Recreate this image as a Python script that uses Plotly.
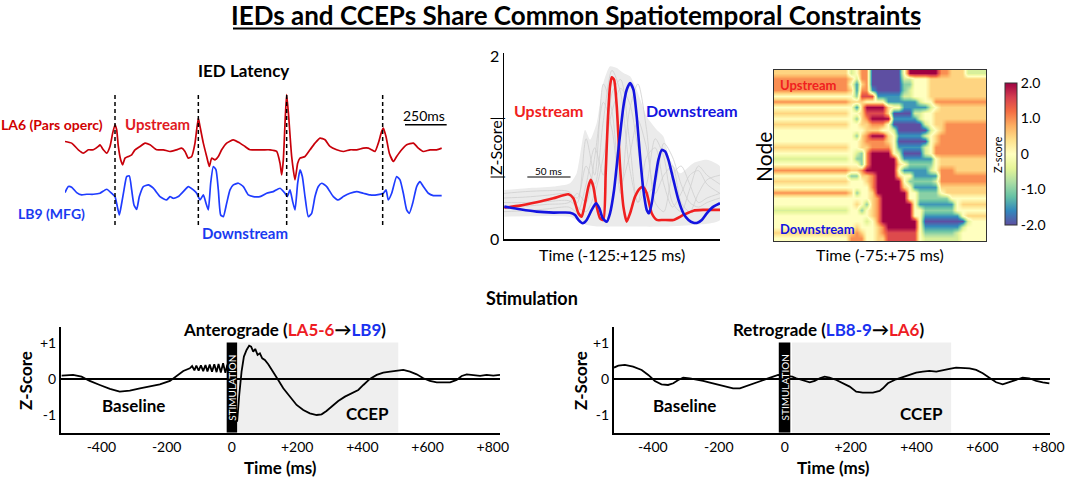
import plotly.graph_objects as go

W, H = 1065, 478
FONT = "Lato"

# ---------------- Panel A: IED latency traces (time ms, amplitude a.u.) ----------------
ied_red_t = [0, 40, 80, 110, 140, 170, 200, 210, 230, 250, 270, 286, 300, 310, 320, 334, 346, 360, 380, 400,
             420, 450, 480, 510, 550, 590, 630, 670, 700, 720, 740, 760, 780, 800, 810, 830, 850, 866, 880, 900,
             920, 940, 970, 1010, 1050, 1080, 1110, 1150, 1190, 1230, 1270, 1290, 1300, 1310, 1322, 1330, 1342,
             1360, 1380, 1396, 1410, 1440, 1470, 1500, 1530, 1560, 1590, 1630, 1670, 1710, 1750, 1790, 1820,
             1840, 1860, 1880, 1900, 1910, 1926, 1946, 1970, 1990, 2020, 2050, 2090, 2120, 2150, 2190, 2230, 2260]
ied_red = [15, 10, -10, -20, -10, -10, 0, 5, -10, -20, 0, 40, 65, 50, 0, -40, -55, -35, -30, -25,
           -10, 0, 10, 5, -10, -10, -15, -10, -5, -15, -35, -30, 10, 85, 60, 10, -30, -60, -35, -40,
           -30, -10, 10, 20, 10, 0, -10, -10, -10, -10, -15, -50, -85, -40, 90, 155, 90,
           -30, -100, -50, -35, -30, -10, 10, 25, 20, 0, -10, -15, -10, -10, -5, -5,
           -10, -15, 10, 45, 55, 30, -20, -45, -30, -10, 5, 10, -5, -15, -10, -10, -5]
ied_blue_t = [0, 20, 40, 70, 100, 130, 170, 210, 250, 280, 300, 314, 326, 340, 354, 370, 386, 400, 414, 430,
              446, 470, 500, 530, 570, 610, 630, 650, 680, 710, 740, 770, 790, 810, 830, 846, 860, 874, 890,
              906, 920, 934, 950, 970, 990, 1010, 1040, 1070, 1100, 1130, 1170, 1210, 1250, 1290, 1320, 1334,
              1350, 1366, 1380, 1396, 1410, 1424, 1440, 1460, 1480, 1500, 1520, 1540, 1570, 1610, 1640, 1670,
              1710, 1750, 1790, 1830, 1870, 1910, 1926, 1940, 1960, 1990, 2010, 2030, 2050, 2066, 2086, 2110,
              2130, 2150, 2180, 2210, 2260]
ied_blue = [2, 20, 18, 2, -5, -3, -3, 0, 12, 0, -10, -40, -65, -30, 10, 50, 52, 10, -35, -48,
            -10, 20, 25, 15, -10, -20, -10, -15, -10, 5, 20, 10, 0, -20, -5, -30, -50, 30, 80,
            70, 10, -65, -70, -30, 10, 25, 30, 20, -5, -10, -10, 0, 5, 15, 0, -10,
            10, -25, -50, 30, 70, 50, -10, -70, -60, -10, 20, 30, 20, -10, -20, -10,
            0, 5, 0, -5, -5, 0, 10, -20, 0, 50, 40, 0, -50, -60, -30, 20,
            35, 20, 0, -7, -7]
ied_onsets = [300, 800, 1330, 1906]
scale_bar_ms = [2040, 2290]

# ---------------- Panel B: averaged |Z| traces (-125..125 ms) ----------------
up_t = [-124.6, -106.5, -87.2, -67.9, -50.5, -44.7, -38.9, -35.1, -31.2, -27.3, -24.6, -21.6, -17.7, -13.8,
        -10.0, -7.3, -5.0, -2.3, -0.3, 2.4, 5.5, 9.3, 13.2, 17.0, 20.9, 26.7, 32.5, 36.3, 40.2, 46.0, 51.8,
        59.5, 71.1, 82.7, 94.2, 105.8, 117.4, 125]
up_z = [0.344, 0.366, 0.403, 0.447, 0.491, 0.447, 0.282, 0.245, 0.392, 0.575, 0.648, 0.575, 0.355, 0.227,
        0.209, 0.722, 1.271, 1.674, 1.773, 1.747, 1.454, 0.795, 0.355, 0.190, 0.282, 0.465, 0.557, 0.568,
        0.502, 0.282, 0.209, 0.209, 0.209, 0.264, 0.311, 0.319, 0.319, 0.319]
down_t = [-124.6, -106.5, -87.2, -67.9, -48.6, -42.8, -38.9, -33.9, -29.3, -23.5, -18.5, -14.6, -10.7, -6.1,
          -2.3, 2.4, 7.4, 13.2, 17.0, 20.9, 24.8, 28.6, 32.5, 36.3, 40.2, 42.9, 46.0, 49.9, 53.7, 57.6, 61.4,
          65.3, 71.1, 76.9, 82.7, 88.5, 94.2, 98.9, 103.9, 109.7, 117.4, 125]
down_z = [0.355, 0.326, 0.300, 0.289, 0.289, 0.264, 0.209, 0.172, 0.209, 0.319, 0.392, 0.337, 0.227, 0.190,
          0.282, 0.538, 0.978, 1.454, 1.637, 1.711, 1.637, 1.344, 0.905, 0.538, 0.319, 0.282, 0.392, 0.648,
          0.868, 0.978, 0.960, 0.868, 0.648, 0.429, 0.282, 0.209, 0.179, 0.179, 0.209, 0.282, 0.355, 0.392]
env_hi_t = [-124.6, -98.8, -67.9, -48.6, -40.9, -31.2, -25.4, -17.7, -10.0, -2.3, 5.5, 13.2, 20.9, 28.6,
            40.2, 51.8, 59.5, 67.2, 78.8, 94.2, 109.7, 125]
env_hi = [0.538, 0.557, 0.575, 0.612, 0.722, 1.198, 1.088, 1.271, 1.711, 1.894, 1.875, 1.821, 1.784, 1.637,
          1.344, 1.198, 1.125, 0.868, 0.722, 0.832, 0.868, 0.795]
env_lo_t = [-124.6, -48.6, -40.9, -29.3, -13.8, 17.0, 55.6, 94.2, 125]
env_lo = [0.245, 0.245, 0.209, 0.154, 0.136, 0.136, 0.136, 0.154, 0.209]
node_t = [-125, -100, -75, -50, -40, -30, -20, -10, 0, 10, 20, 30, 40, 50, 60, 70, 80, 90, 100, 110, 125]
node_traces = [
    [0.45, 0.46, 0.48, 0.50, 0.45, 0.80, 0.60, 1.30, 1.85, 1.60, 0.80, 0.40, 0.90, 1.00, 0.60, 0.35, 0.50, 0.70, 0.75, 0.60, 0.50],
    [0.35, 0.36, 0.38, 0.40, 0.50, 0.40, 0.90, 1.50, 1.20, 0.50, 1.40, 1.70, 1.20, 0.40, 0.30, 0.70, 0.80, 0.60, 0.40, 0.45, 0.50],
    [0.30, 0.31, 0.33, 0.35, 0.30, 0.60, 1.00, 0.70, 1.60, 1.75, 1.10, 0.40, 0.60, 1.10, 0.90, 0.40, 0.30, 0.55, 0.80, 0.70, 0.60],
    [0.50, 0.52, 0.53, 0.52, 0.40, 1.10, 0.70, 1.70, 1.40, 0.60, 0.90, 1.30, 1.00, 0.50, 0.70, 0.80, 0.40, 0.30, 0.50, 0.65, 0.70],
    [0.40, 0.40, 0.41, 0.42, 0.35, 0.30, 0.50, 0.90, 1.40, 1.65, 1.50, 1.00, 0.50, 0.60, 1.05, 0.90, 0.60, 0.40, 0.35, 0.40, 0.45],
]
scale50_ms = [-98, -48]

# ---------------- Panel C: node x time heatmap (digit code: 0=-2.0 ... 4=0 ... 8=+2.0) ----------------
heat_levels = [-2.0, -1.5, -1.0, -0.5, 0.0, 0.5, 1.0, 1.5, 2.0]
heat_rows = [
    "55555555555555" + "34" + "66" + "000000" + "4" + "888888" + "66" + "555" + "3333",
    "66666666666666" + "53" + "66" + "000000" + "33" + "444" + "55555555555",
    "66666666666666" + "41" + "56" + "000000" + "22" + "444" + "55555555555",
    "66666666666666" + "51" + "66" + "100000" + "23" + "444" + "55555555555",
    "44444444444444" + "42" + "77" + "711111" + "33" + "444" + "55555555555",
    "66666666666666" + "55" + "54" + "444" + "111111" + "344" + "6666666666",
    "444444444444444" + "1" + "5" + "8888" + "544" + "11111" + "34" + "555555555",
    "55555555555555" + "44" + "5" + "7777" + "5" + "0000" + "3344" + "5555555555",
    "44444444444444" + "42" + "5" + "6" + "8888" + "11111" + "344" + "5555555555",
    "55555555555555" + "44" + "55" + "666" + "4" + "000000" + "34" + "5566666666",
    "44444444444444" + "44" + "45" + "5544" + "3" + "000000" + "345" + "66666666",
    "44444444444444" + "42" + "56" + "888" + "54" + "11111" + "345" + "666666666",
    "44444444444444" + "44" + "56" + "666" + "54" + "000000" + "45" + "666666666",
    "55555555555555" + "44" + "55" + "6666" + "4" + "11111" + "34" + "6666666666",
    "44444444444444" + "43" + "2" + "6" + "8888" + "4" + "3" + "0000" + "34" + "6666666666",
    "33333333333333" + "42" + "2" + "6" + "88888" + "4" + "111111" + "4" + "555555555",
    "44444444444444" + "44" + "2" + "6" + "88888" + "54" + "22222" + "4" + "555555555",
    "66666666666666" + "55" + "6" + "8" + "88888" + "4" + "11111" + "34" + "666555555",
    "44444444444444" + "22" + "5" + "5" + "6" + "888" + "8" + "544" + "11111" + "666666666",
    "55555555555555" + "44" + "4" + "5" + "6" + "8888" + "8" + "4" + "22222" + "3" + "666666666",
    "44444444444444" + "44" + "4" + "4" + "6" + "8888" + "8" + "54" + "11111" + "555555555",
    "66666666666666" + "52" + "4" + "4" + "5" + "8888" + "88" + "44" + "2222" + "455555555",
    "44444444444444" + "44" + "4" + "4" + "5" + "6" + "88888" + "44" + "222222" + "4444444",
    "44444444444444" + "45" + "4" + "2" + "5" + "6" + "888888" + "4" + "1111111" + "455555",
    "33333333333333" + "44" + "2" + "4" + "5" + "6" + "888888" + "44" + "222222" + "444444",
    "44444444444444" + "44" + "4" + "4" + "5" + "6" + "888888" + "44" + "1111111" + "45555",
    "44444444444444" + "44" + "4" + "3" + "4" + "6" + "8888888" + "4" + "00000000" + "3444",
    "44444444444444" + "45" + "4" + "4" + "4" + "5" + "6" + "888888" + "4" + "1111111" + "34444",
    "55555555555555" + "56" + "5" + "4" + "4" + "5" + "6" + "777777" + "4" + "222222" + "344444",
    "44444444444444" + "66" + "6" + "4" + "4" + "5" + "5" + "777777" + "4" + "3333333" + "44444",
]
heat_t0, heat_dt = -73.125, 3.75

# ---------------- Panels D/E: stimulation responses ----------------
ant_t = [-522, -487, -461, -436, -405, -374, -344, -313, -282, -252, -221, -190, -170, -149, -129,
         -122, -115, -109, -102, -95, -88, -81, -75, -68, -61, -54, -47, -41, -34, -27, -20, -14, -8,
         16, 22.5, 29.6, 36.8, 45, 53, 59, 65.4, 71.5, 78.7, 85.9, 93, 101, 111.5, 126.8, 142, 157.5, 178,
         198.4, 218.8, 239, 260, 275, 290, 306, 326, 346.6, 367, 387.5, 403, 423, 444, 464, 485, 505, 525.5,
         546, 566.5, 587, 607, 628, 648, 669, 689, 704.6, 720, 740, 761, 781, 801.5, 822]
ant_z = [0.093, 0.112, 0.065, -0.056, -0.168, -0.279, -0.354, -0.326, -0.261, -0.214, -0.149, -0.056, 0.093,
         0.223, 0.298,
         0.36, 0.24, 0.37, 0.23, 0.38, 0.22, 0.39, 0.21, 0.40, 0.20, 0.41, 0.19, 0.42, 0.18, 0.44, 0.17, 0.40, 0.20,
         -1.19, -0.447, 0.205, 0.624, 0.81, 0.931, 0.903, 0.763, 0.838, 0.670, 0.717, 0.577, 0.531, 0.41, 0.205,
         -0.028, -0.261, -0.494, -0.726, -0.866, -0.959, -1.006, -0.987, -0.894, -0.773, -0.615, -0.494, -0.40,
         -0.307, -0.168, 0.0, 0.112, 0.177, 0.205, 0.223, 0.251, 0.205, 0.130, 0.019, -0.056, -0.093, -0.102,
         -0.093, -0.028, 0.084, 0.130, 0.112, 0.084, 0.112, 0.093, 0.112]
ret_t = [-518, -505, -485, -460, -434, -414, -394, -374, -354, -338, -323, -308, -288, -268, -247.5, -227,
         -207, -182, -156.6, -136, -116, -96, -76, -55.5, -35, -20, 23, 35, 55.5, 76, 91, 106, 121, 136, 156.6,
         176.8, 197, 217, 237, 267.7, 288, 298, 313, 338, 358.6, 379, 399, 419, 439, 460, 480, 500, 520, 540,
         561, 581, 601, 621, 641.5, 661.5, 682, 702, 722, 742, 763, 783, 803]
ret_z = [0.317, 0.372, 0.391, 0.344, 0.251, 0.112, -0.056, -0.149, -0.168, -0.121, -0.028, 0.037, 0.019,
         -0.009, -0.056, -0.102, -0.149, -0.214, -0.261, -0.261, -0.196, -0.121, -0.056, 0.019, 0.065, 0.112,
         0.065, 0.019, -0.028, -0.093, -0.056, 0.019, 0.065, 0.037, -0.028, -0.121, -0.214, -0.354, -0.382,
         -0.382, -0.335, -0.261, -0.121, -0.009, 0.047, 0.112, 0.177, 0.205, 0.223, 0.205, 0.251, 0.279, 0.317,
         0.317, 0.298, 0.251, 0.158, 0.037, -0.093, -0.149, -0.093, -0.028, 0.037, 0.019, -0.056, -0.093, -0.121]
time_ticks = [-400, -200, 0, 200, 400, 600, 800]
time_labels = ["-400", "-200", "0", "+200", "+400", "+600", "+800"]
z_ticks = [-1, 0, 1]
z_labels = ["-1", "0", "+1"]
ant_stim = [-16, 16]
ant_ccep = [16, 510]
ret_stim = [-18, 17]
ret_ccep = [22, 505]

RED_DARK = "#c8000a"

fig = go.Figure()

# ---- Panel A ----
RED_OFFSET = 140
fig.add_trace(go.Scatter(x=ied_red_t, y=[v + RED_OFFSET for v in ied_red], xaxis="x", yaxis="y",
                         mode="lines", line=dict(color=RED_DARK, width=1.7, shape="spline", smoothing=0.5),
                         hoverinfo="skip"))
fig.add_trace(go.Scatter(x=ied_blue_t, y=ied_blue, xaxis="x", yaxis="y",
                         mode="lines", line=dict(color="#1f3cff", width=1.7, shape="spline", smoothing=0.5),
                         hoverinfo="skip"))
for t in ied_onsets:
    fig.add_shape(type="line", xref="x", yref="y", x0=t, x1=t, y0=-95, y1=300,
                  line=dict(color="black", width=1.5, dash="4px,3px"))
fig.add_shape(type="line", xref="x", yref="y", x0=scale_bar_ms[0], x1=scale_bar_ms[1], y0=205, y1=205,
              line=dict(color="black", width=1.5))

# ---- Panel B ----
fig.add_trace(go.Scatter(x=env_hi_t + env_lo_t[::-1], y=env_hi + env_lo[::-1], xaxis="x2", yaxis="y2",
                         mode="lines", fill="toself", fillcolor="#ebebeb",
                         line=dict(width=0, shape="spline", smoothing=0.6), hoverinfo="skip"))
for tr in node_traces:
    fig.add_trace(go.Scatter(x=node_t, y=tr, xaxis="x2", yaxis="y2", mode="lines",
                             line=dict(color="#cfcfcf", width=0.8, shape="spline", smoothing=0.8),
                             hoverinfo="skip"))
fig.add_trace(go.Scatter(x=up_t, y=up_z, xaxis="x2", yaxis="y2", mode="lines",
                         line=dict(color="#f02020", width=2.6, shape="spline", smoothing=0.6), hoverinfo="skip"))
fig.add_trace(go.Scatter(x=down_t, y=down_z, xaxis="x2", yaxis="y2", mode="lines",
                         line=dict(color="#1414e0", width=2.6, shape="spline", smoothing=0.6), hoverinfo="skip"))
fig.add_shape(type="line", xref="x2", yref="y2", x0=scale50_ms[0], x1=scale50_ms[1], y0=0.68, y1=0.68,
              line=dict(color="black", width=1.2))

# ---- Panel C ----
heat_z = [[heat_levels[int(c)] for c in row] for row in heat_rows]
fig.add_trace(go.Heatmap(z=heat_z, x0=heat_t0, dx=heat_dt, y0=0, dy=1, xaxis="x3", yaxis="y3",
                         colorscale="Spectral", reversescale=True, zmin=-2, zmax=2, zsmooth="best",
                         hoverinfo="skip",
                         colorbar=dict(x=1005 / W, xanchor="left", y=1 - 154 / H, yanchor="middle",
                                       len=142 / H, lenmode="fraction", thickness=12, outlinewidth=1,
                                       outlinecolor="#333", tickvals=[2, 1, 0, -1, -2],
                                       ticktext=["2.0", "1.0", "0", "-1.0", "-2.0"], ticks="",
                                       tickfont=dict(size=14, family=FONT, color="black"), xpad=0, ypad=0)))

# ---- Panels D / E ----
fig.add_trace(go.Scatter(x=ant_t, y=ant_z, xaxis="x4", yaxis="y4", mode="lines",
                         line=dict(color="black", width=1.8), hoverinfo="skip"))
fig.add_trace(go.Scatter(x=ret_t, y=ret_z, xaxis="x5", yaxis="y5", mode="lines",
                         line=dict(color="black", width=1.8), hoverinfo="skip"))
for xa, ya, stim, ccep in (("x4", "y4", ant_stim, ant_ccep), ("x5", "y5", ret_stim, ret_ccep)):
    fig.add_shape(type="rect", xref=xa, yref=ya, x0=ccep[0], x1=ccep[1], y0=-1.5, y1=1.02,
                  fillcolor="#efefef", line=dict(width=0), layer="below")
    fig.add_shape(type="rect", xref=xa, yref=ya, x0=stim[0], x1=stim[1], y0=-1.5, y1=1.02,
                  fillcolor="black", line=dict(width=0), layer="above")
    fig.add_annotation(text="STIMULATION", xref=xa, yref=ya, x=(stim[0] + stim[1]) / 2, y=-0.25,
                       showarrow=False, textangle=-90, font=dict(size=10, color="white", family=FONT))

# ---- Axes ----
noax = dict(visible=False, fixedrange=True)
stim_x = dict(showline=True, linecolor="black", linewidth=2, showgrid=False, zeroline=False, ticks="",
              tickvals=time_ticks, ticktext=time_labels, tickfont=dict(size=14, family=FONT, color="black"),
              automargin=False)
stim_y = dict(showline=True, linecolor="black", linewidth=2, showgrid=False, zeroline=True,
              zerolinecolor="black", zerolinewidth=1.5, ticks="", tickvals=z_ticks, ticktext=z_labels,
              tickfont=dict(size=14, family=FONT, color="black"), range=[-1.5, 1.45],
              domain=[1 - 432.7 / H, 1 - 327 / H], automargin=False)
fig.update_layout(
    width=W, height=H, margin=dict(l=0, r=0, t=0, b=0, pad=0, autoexpand=False),
    paper_bgcolor="white", plot_bgcolor="rgba(0,0,0,0)", showlegend=False,
    font=dict(family=FONT, color="black"),
    xaxis=dict(domain=[65 / W, (65 + 2300 / 6) / W], range=[0, 2300], **noax),
    yaxis=dict(domain=[1 - 225 / H, 1 - 93 / H], range=[-95, 300], **noax),
    xaxis2=dict(domain=[504 / W, 720 / W], range=[-125, 125], showline=True, linecolor="black", linewidth=1.5,
                showticklabels=False, showgrid=False, zeroline=False, ticks="", anchor="y2", automargin=False),
    yaxis2=dict(domain=[1 - 239 / H, 1 - 53 / H], range=[0, 2.04], showline=True, linecolor="black",
                linewidth=1.5, showgrid=False, zeroline=False, ticks="", tickvals=[0, 2], anchor="x2",
                tickfont=dict(size=16, family=FONT, color="black"), automargin=False),
    xaxis3=dict(domain=[774 / W, 986 / W], range=[-75, 75], showline=True, mirror=True, linecolor="#333",
                linewidth=1, showticklabels=False, showgrid=False, zeroline=False, ticks="", anchor="y3"),
    yaxis3=dict(domain=[1 - 241 / H, 1 - 70 / H], range=[29.5, -0.5], showline=True, mirror=True,
                linecolor="#333", linewidth=1, showticklabels=False, showgrid=False, zeroline=False, ticks="",
                anchor="x3"),
    xaxis4=dict(domain=[61 / W, 500 / W], range=[-524, 822], anchor="y4", **stim_x),
    yaxis4=dict(anchor="x4", **stim_y),
    xaxis5=dict(domain=[614 / W, 1050 / W], range=[-518, 805], anchor="y5", **stim_x),
    yaxis5=dict(anchor="x5", **stim_y),
)


def ann(text, x, y, size, color="black", angle=0, xanchor="center"):
    fig.add_annotation(text=text, x=x / W, y=1 - y / H, xref="paper", yref="paper", showarrow=False,
                       textangle=angle, xanchor=xanchor, yanchor="middle",
                       font=dict(size=size, color=color, family=FONT))


# Title
ann("<b>IEDs and CCEPs Share Common Spatiotemporal Constraints</b>", 576, 15, 26)
fig.add_shape(type="line", xref="paper", yref="paper", x0=233 / W, x1=920 / W, y0=1 - 28.5 / H, y1=1 - 28.5 / H,
              line=dict(color="black", width=2))

# Panel A texts
ann("<b>IED Latency</b>", 243, 70, 17)
ann("<b>LA6 (Pars operc)</b>", 105, 124, 14, "#d00000", xanchor="right")
ann("<b>Upstream</b>", 157, 124, 15, "#e01a22")
ann("250ms", 424, 116, 14)
ann("<b>LB9 (MFG)</b>", 51, 213, 14, "#1a3af0")
ann("<b>Downstream</b>", 245, 233, 15, "#1a3af0")

# Panel B texts
ann("<b>Upstream</b>", 549, 111, 16, "#f02020")
ann("<b>Downstream</b>", 692, 110, 16, "#1414e0")
ann("50 ms", 548, 171, 10)
ann("|Z-Score|", 495, 148, 16, angle=-90)
ann("Time (-125:+125 ms)", 612, 254, 16)

# Panel C texts
ann("<b>Upstream</b>", 778, 85, 13, "#f02020", xanchor="left")
ann("<b>Downstream</b>", 778, 229, 13, "#1414e0", xanchor="left")
ann("Node", 763, 157, 21, angle=-90)
ann("Time (-75:+75 ms)", 880, 254, 16)
ann("Z-score", 997, 155, 11, angle=-90)

# Bottom texts
ann("<b>Stimulation</b>", 532, 298, 18)
ann("<b>Anterograde (<span style='color:#ee1c24'>LA5-6</span>\u2192<span style='color:#1a32f0'>LB9</span>)</b>",
    284, 329, 17)
ann("<b>Retrograde (<span style='color:#1a32f0'>LB8-9</span>\u2192<span style='color:#ee1c24'>LA6</span>)</b>",
    828, 329, 17)
ann("<b>Z-Score</b>", 25, 381, 17, angle=-90)
ann("<b>Z-Score</b>", 580, 381, 17, angle=-90)
ann("<b>Baseline</b>", 133, 405, 17)
ann("<b>Baseline</b>", 684, 405, 17)
ann("<b>CCEP</b>", 367, 413, 17)
ann("<b>CCEP</b>", 921, 413, 17)
ann("<b>Time (ms)</b>", 280, 467, 17)
ann("<b>Time (ms)</b>", 833, 467, 17)

fig.write_html("out.html", config={"displayModeBar": False, "staticPlot": True},
               post_script="document.body.style.margin='0';document.body.style.padding='0';"
                           "document.documentElement.style.overflow='hidden';")
